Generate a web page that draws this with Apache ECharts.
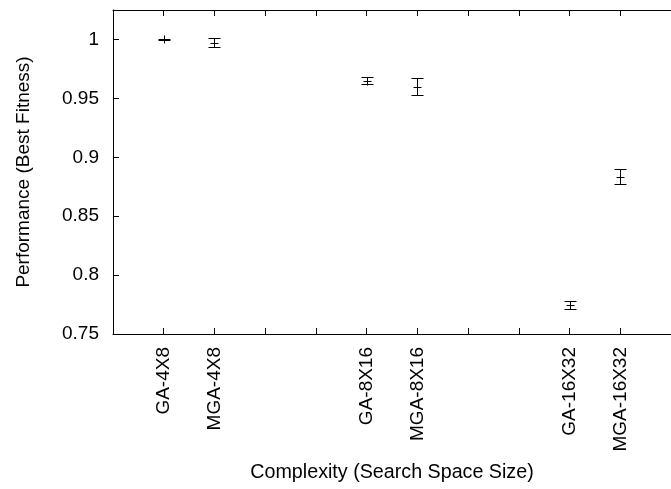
<!DOCTYPE html>
<html>
<head>
<meta charset="utf-8">
<script src="https://cdn.jsdelivr.net/npm/echarts@6/dist/echarts.min.js"></script>
<style>
  html, body { margin: 0; padding: 0; background: #fff; }
  #chart { width: 671px; height: 489px; }
</style>
</head>
<body>
<div id="chart"></div>
<script>
// data
const categories = ['GA-4X8', 'MGA-4X8', 'GA-8X16', 'MGA-8X16', 'GA-16X32', 'MGA-16X32']
const positions = [1, 2, 5, 6, 9, 10]
const fitness = [1.0, 0.9974, 0.9651, 0.960, 0.7747, 0.8836]
const errors = [0.0005, 0.0039, 0.0031, 0.0069, 0.0037, 0.0064]
const yTicks = [0.75, 0.8, 0.85, 0.9, 0.95, 1]

const font = 'Liberation Sans, Arial, sans-serif'
const fontSize = 19
const chart = echarts.init(document.getElementById('chart'))

const seriesData = positions.map((p, i) => [p, fitness[i], errors[i]])

const crisp = v => Math.round(v) + 0.5

const renderErrorBar = (params, api) => {
  const x = api.value(0)
  const m = api.value(1)
  const e = api.value(2)
  const c = api.coord([x, m])
  const hi = api.coord([x, m + e])
  const lo = api.coord([x, m - e])
  const cx = crisp(c[0])
  const cy = crisp(c[1])
  const yh = crisp(hi[1])
  const yl = crisp(lo[1])
  const cap = 6
  const mk = 4
  const style = { stroke: '#000', lineWidth: 1 }
  return {
    type: 'group',
    children: [
      { type: 'line', shape: { x1: cx, y1: yh, x2: cx, y2: yl }, style },
      { type: 'line', shape: { x1: cx - cap, y1: yh, x2: cx + cap, y2: yh }, style },
      { type: 'line', shape: { x1: cx - cap, y1: yl, x2: cx + cap, y2: yl }, style },
      // plus marker
      { type: 'line', shape: { x1: cx - mk, y1: cy, x2: cx + mk, y2: cy }, style },
      { type: 'line', shape: { x1: cx, y1: cy - mk, x2: cx, y2: cy + mk }, style }
    ]
  }
}

const option = {
  animation: false,
  backgroundColor: '#fff',
  textStyle: { fontFamily: font },
  grid: {
    left: 113,
    top: 10,
    width: 565,
    height: 324
  },
  xAxis: [
    {
      type: 'value',
      min: 0,
      max: 11,
      interval: 1,
      name: 'Complexity (Search Space Size)',
      nameLocation: 'middle',
      nameGap: 129,
      nameTextStyle: { fontSize: 19.7, color: '#000', fontFamily: font },
      axisLine: { show: true, onZero: false, lineStyle: { color: '#000', width: 1 } },
      axisTick: { show: true, inside: true, length: 6, lineStyle: { color: '#000' } },
      splitLine: { show: false },
      axisLabel: {
        rotate: 90,
        margin: 13,
        fontSize: fontSize,
        color: '#000',
        fontFamily: font,
        formatter: v => {
          const idx = positions.indexOf(v)
          return idx >= 0 ? categories[idx] : ''
        }
      }
    },
    {
      type: 'value',
      position: 'top',
      min: 0,
      max: 11,
      interval: 1,
      axisLine: { show: true, onZero: false, lineStyle: { color: '#000', width: 1 } },
      axisTick: { show: true, inside: true, length: 6, lineStyle: { color: '#000' } },
      axisLabel: { show: false },
      splitLine: { show: false }
    }
  ],
  yAxis: {
    type: 'value',
    min: 0.75,
    max: 1.025,
    interval: 0.05,
    name: 'Performance (Best Fitness)',
    nameLocation: 'middle',
    nameGap: 80,
    nameTextStyle: { fontSize: fontSize, color: '#000', fontFamily: font },
    axisLine: { show: true, onZero: false, lineStyle: { color: '#000', width: 1 } },
    axisTick: { show: true, inside: true, length: 6, lineStyle: { color: '#000' } },
    splitLine: { show: false },
    axisLabel: {
      margin: 14,
      fontSize: fontSize,
      color: '#000',
      fontFamily: font,
      showMaxLabel: false,
      formatter: v => {
        const t = yTicks.find(y => Math.abs(y - v) < 1e-6)
        return t === undefined ? '' : String(t)
      }
    }
  },
  series: [
    {
      type: 'custom',
      renderItem: renderErrorBar,
      encode: { x: 0, y: 1 },
      data: seriesData,
      clip: false
    }
  ]
}

chart.setOption(option)
</script>
</body>
</html>
